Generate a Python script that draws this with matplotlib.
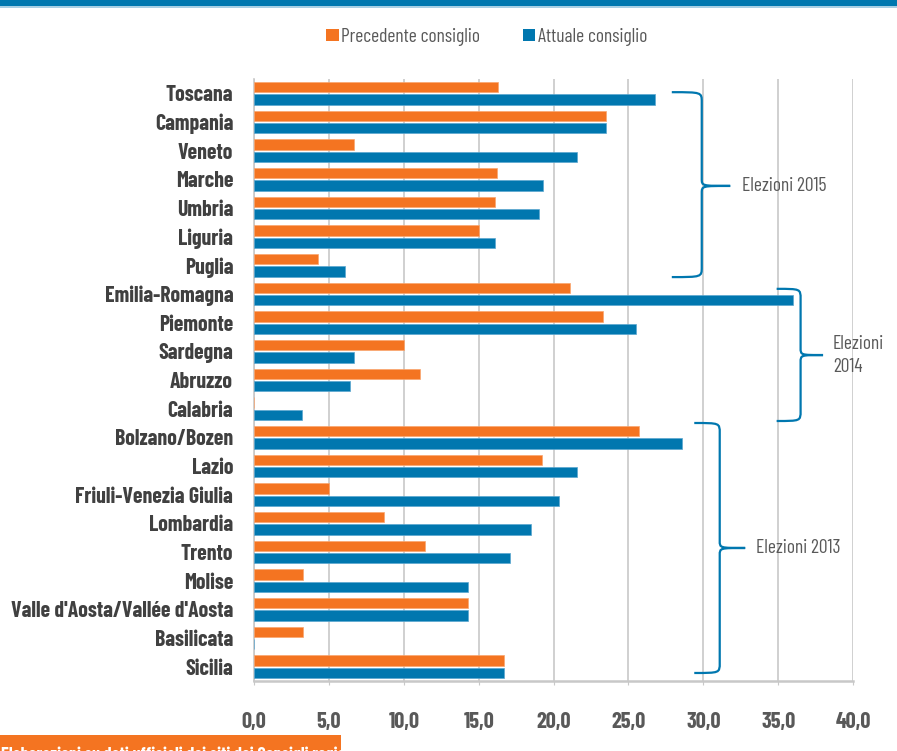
import matplotlib
matplotlib.use("Agg")
import matplotlib.pyplot as plt
import numpy as np
from matplotlib.patches import Patch, Rectangle, PathPatch
from matplotlib.path import Path

FONT = ["Barlow Condensed", "DejaVu Sans"]
plt.rcParams["font.family"] = FONT

regions = ["Toscana", "Campania", "Veneto", "Marche", "Umbria", "Liguria", "Puglia",
           "Emilia-Romagna", "Piemonte", "Sardegna", "Abruzzo", "Calabria",
           "Bolzano/Bozen", "Lazio", "Friuli-Venezia Giulia", "Lombardia", "Trento",
           "Molise", "Valle d'Aosta/Vallée d'Aosta", "Basilicata", "Sicilia"]
precedente = [16.3, 23.5, 6.7, 16.2, 16.1, 15.0, 4.3,
              21.1, 23.3, 10.0, 11.1, 0.0,
              25.7, 19.2, 5.0, 8.7, 11.4, 3.3, 14.3, 3.3, 16.7]
attuale = [26.8, 23.5, 21.6, 19.3, 19.0, 16.1, 6.1,
           36.0, 25.5, 6.7, 6.4, 3.2,
           28.6, 21.6, 20.4, 18.5, 17.1, 14.3, 14.3, 0.0, 16.7]
series_names = ["Precedente consiglio", "Attuale consiglio"]
x_ticks = [0, 5, 10, 15, 20, 25, 30, 35, 40]
x_tick_labels = ["0,0", "5,0", "10,0", "15,0", "20,0", "25,0", "30,0", "35,0", "40,0"]

# election groups: label, first region index, last region index
groups = [("Elezioni 2015", 0, 6), ("Elezioni\n2014", 7, 11), ("Elezioni 2013", 12, 20)]

ORANGE = "#F47421"
BLUE = "#0077AF"
GRID = "#C8C8C8"
LABEL = "#404040"
TEXT = "#595959"

W, H = 897, 751
fig = plt.figure(figsize=(W / 100, H / 100), dpi=100)
ax = fig.add_axes([254 / W, 1 - 681 / H, (853 - 254) / W, (681 - 79) / H])

y = np.arange(len(regions))
bar_h = 0.36
off = 0.215
ax.barh(y - off, precedente, height=bar_h, color=ORANGE, edgecolor="#F9A56E", linewidth=0.5, zorder=3)
ax.barh(y + off, attuale, height=bar_h, color=BLUE, edgecolor="#5BA6CF", linewidth=0.5, zorder=3)

ax.set_xlim(0, 40)
ax.set_ylim(len(regions) - 0.5, -0.5)
ax.set_xticks(x_ticks)
ax.set_xticklabels(x_tick_labels, fontsize=16, fontweight="bold", color=TEXT)
ax.set_yticks(y)
ax.set_yticklabels(regions, fontsize=15.7, fontweight="bold", color=LABEL)
ax.tick_params(axis="y", length=0, pad=15)
ax.tick_params(axis="x", length=3, color=GRID, pad=19)
ax.grid(axis="x", color=GRID, linewidth=1.2, zorder=0)
ax.set_axisbelow(True)
for s in ("top", "right"):
    ax.spines[s].set_visible(False)
ax.spines["left"].set_color(GRID)
ax.spines["left"].set_linewidth(1.2)
ax.spines["bottom"].set_color(GRID)
ax.spines["bottom"].set_linewidth(1.8)


def brace(x_tip, x_spine, x_point, y_top, y_bot, y_mid, r=0.35, r2=0.25):
    verts = [
        (x_tip, y_top),
        (x_spine, y_top), (x_spine, y_top), (x_spine, y_top + r),
        (x_spine, y_mid - r2),
        (x_spine, y_mid), (x_spine, y_mid), (x_point, y_mid),
        (x_spine, y_mid), (x_spine, y_mid), (x_spine, y_mid + r2),
        (x_spine, y_bot - r),
        (x_spine, y_bot), (x_spine, y_bot), (x_tip, y_bot),
    ]
    codes = [Path.MOVETO,
             Path.CURVE4, Path.CURVE4, Path.CURVE4,
             Path.LINETO,
             Path.CURVE4, Path.CURVE4, Path.CURVE4,
             Path.CURVE4, Path.CURVE4, Path.CURVE4,
             Path.LINETO,
             Path.CURVE4, Path.CURVE4, Path.CURVE4]
    ax.add_patch(PathPatch(Path(verts, codes), fill=False, edgecolor=BLUE,
                           linewidth=1.6, clip_on=False, zorder=4))


# brace geometry per group: tip x, spine x, point x, top/bottom extension, mid y, text x
brace_style = [
    (27.9, 29.9, 31.8, -0.04, 0.41, 3.23, 32.6),
    (34.9, 36.5, 38.0, -0.18, 0.43, 9.13, 38.65),
    (29.4, 31.1, 32.8, -0.50, 0.22, 15.86, 33.5),
]
for (label, first, last), (xt, xs, xp, et, eb, ym, xtx) in zip(groups, brace_style):
    brace(xt, xs, xp, first + et, last + eb, ym)
    ax.text(xtx, ym, label, fontsize=14, color=TEXT, va="center", ha="left",
            linespacing=1.35, clip_on=False, zorder=5)

# legend
handles = [Patch(facecolor=ORANGE, edgecolor="none"), Patch(facecolor=BLUE, edgecolor="none")]
fig.legend(handles, series_names, loc="center", bbox_to_anchor=(487 / W, 1 - 37 / H),
           ncol=2, frameon=False, fontsize=14, handlelength=0.62, handleheight=0.62,
           handletextpad=0.15, columnspacing=2.2, labelcolor=TEXT)

# header band
fig.patches.append(Rectangle((0, 1 - 6 / H), 1, 6 / H, transform=fig.transFigure,
                             facecolor="#0077AF", edgecolor="none"))
fig.patches.append(Rectangle((0, 1 - 8 / H), 1, 2 / H, transform=fig.transFigure,
                             facecolor="#A8CFE4", edgecolor="none"))

# source box at the foot
foot = Rectangle((0, 0), 341 / W, 16 / H, transform=fig.transFigure,
                 facecolor=ORANGE, edgecolor="none")
fig.patches.append(foot)
note = fig.text(1 / W, 1 - 747 / H, "Elaborazioni su dati ufficiali dei siti dei Consigli regionali",
                fontsize=13, fontweight="bold", color="white", va="top", ha="left")
note.set_clip_path(foot)

fig.savefig("out.png", dpi=100)
